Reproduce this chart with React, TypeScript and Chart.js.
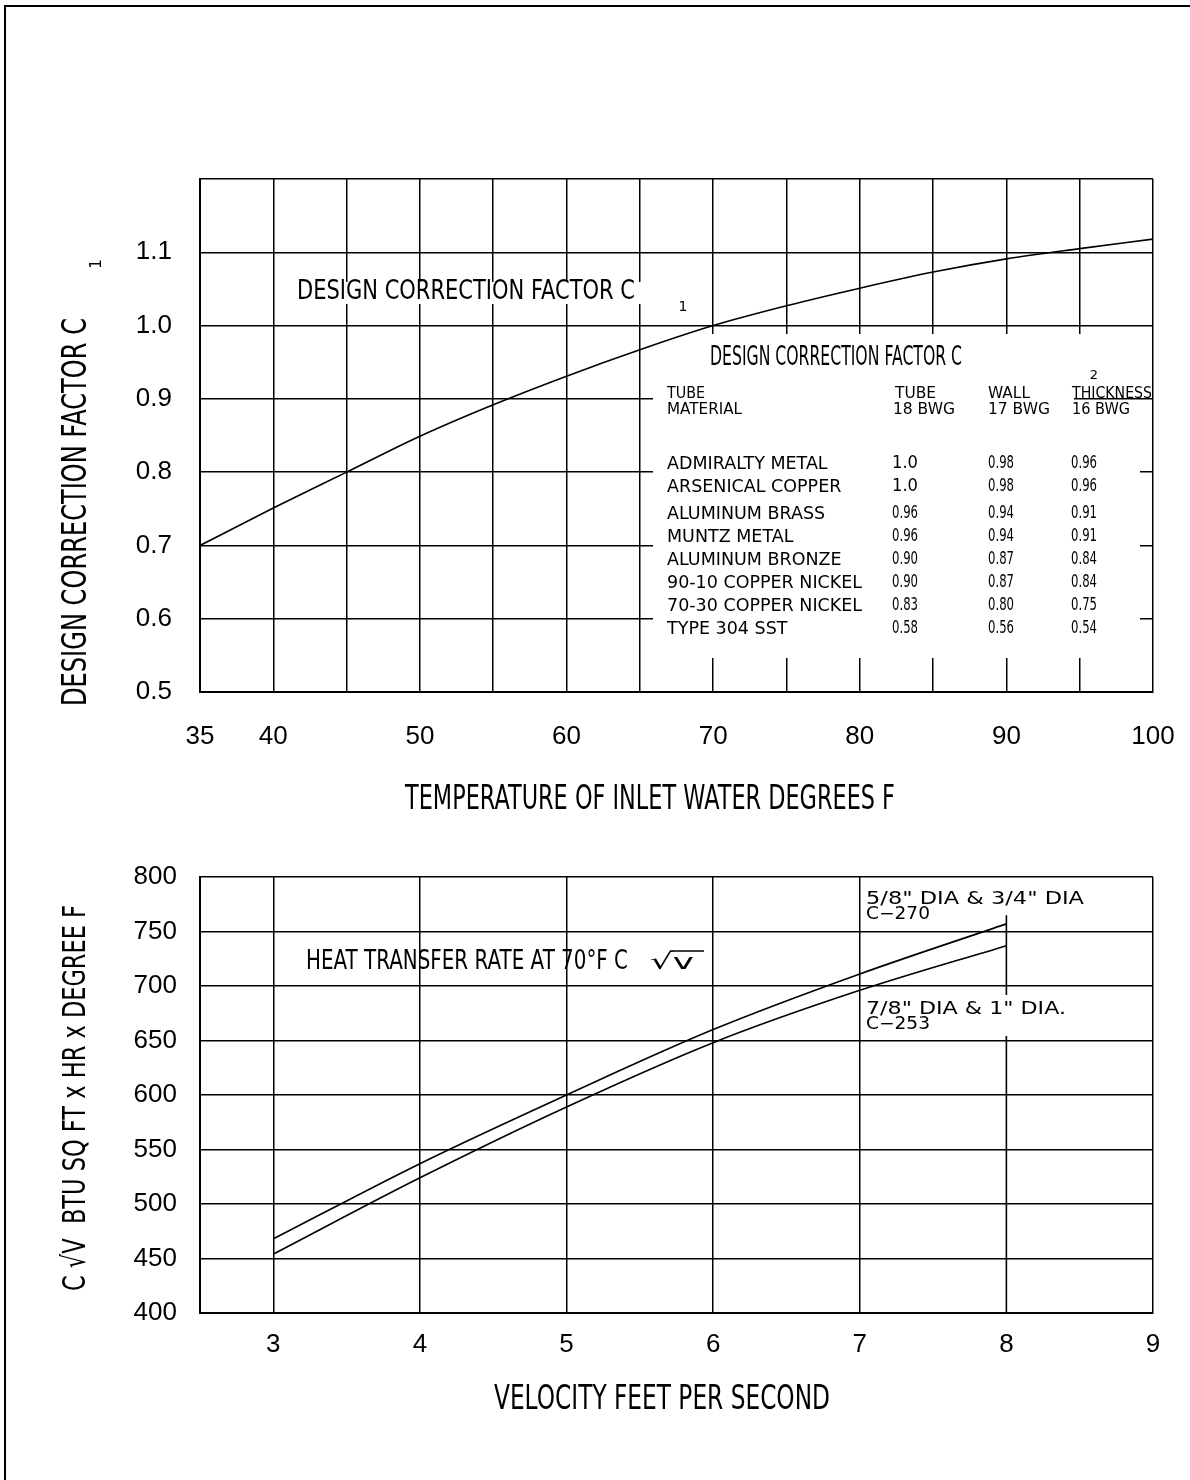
import React, { useEffect, useRef } from 'react';
import { Chart, registerables } from 'chart.js';

Chart.register(...registerables);

// ---------- DATA ----------
const tempF = [35, 40, 45, 50, 55, 60, 65, 70, 75, 80, 85, 90, 95, 100];
const factorC1 = [0.700, 0.751, 0.800, 0.849, 0.892, 0.931, 0.967, 1.000, 1.027, 1.051, 1.073, 1.091, 1.105, 1.118];
const tempTickLabels = [35, 40, 50, 60, 70, 80, 90, 100];

const velocity = [3, 4, 5, 6, 7, 8];
const rateSmallDia = [468, 537, 600, 660, 711, 757]; // 5/8" & 3/4" DIA, C-270
const rateLargeDia = [454, 524, 589, 648, 696, 737]; // 7/8" & 1" DIA, C-253
const dividerVelocity = [8, 8];
const dividerRate = [400, 765];

const materials = [
  'ADMIRALTY METAL',
  'ARSENICAL COPPER',
  'ALUMINUM BRASS',
  'MUNTZ METAL',
  'ALUMINUM BRONZE',
  '90-10 COPPER NICKEL',
  '70-30 COPPER NICKEL',
  'TYPE 304 SST',
];
const bwg18 = ['1.0', '1.0', '0.96', '0.96', '0.90', '0.90', '0.83', '0.58'];
const bwg17 = ['0.98', '0.98', '0.94', '0.94', '0.87', '0.87', '0.80', '0.56'];
const bwg16 = ['0.96', '0.96', '0.91', '0.91', '0.84', '0.84', '0.75', '0.54'];

// ---------- HELPERS ----------
const TXT = 'DejaVu Sans';
const TICK_FONT = 'Liberation Sans';

type TOpts = { size: number; width?: number; sx?: number; align?: CanvasTextAlign; rot?: boolean; family?: string };
function txt(ctx: CanvasRenderingContext2D, s: string, x: number, y: number, o: TOpts) {
  ctx.save();
  ctx.font = `${o.size}px "${o.family ?? TXT}"`;
  const w = ctx.measureText(s).width;
  const sx = o.width ? o.width / w : (o.sx ?? 1);
  ctx.translate(x, y);
  if (o.rot) ctx.rotate(-Math.PI / 2);
  ctx.scale(sx, 1);
  ctx.textAlign = o.align ?? 'left';
  ctx.textBaseline = 'middle';
  ctx.fillStyle = '#000';
  ctx.fillText(s, 0, 0);
  ctx.restore();
}

const gridOpts = { color: '#000', lineWidth: 1.5, drawTicks: false };
const borderOpts = { color: '#000', width: 2 };
const tickFont = { size: 26, family: TICK_FONT };

// ---------- PLUGINS ----------
const topDecor = {
  id: 'topDecor',
  beforeDatasetsDraw(chart: any) {
    const ctx = chart.ctx as CanvasRenderingContext2D;
    ctx.save();
    ctx.fillStyle = '#fff';
    ctx.fillRect(653, 334, 487, 324);
    ctx.fillRect(293, 282, 348, 22);
    ctx.strokeStyle = '#000';
    ctx.lineWidth = 1.5;
    const y09 = chart.scales.y.getPixelForValue(0.9);
    ctx.beginPath();
    ctx.moveTo(1074, y09);
    ctx.lineTo(1140, y09);
    ctx.stroke();
    ctx.restore();
  },
  afterDraw(chart: any) {
    const ctx = chart.ctx as CanvasRenderingContext2D;
    // axis titles
    txt(ctx, 'TEMPERATURE OF INLET WATER DEGREES F', 650, 800, { size: 34, width: 490, align: 'center' });
    txt(ctx, 'DESIGN CORRECTION FACTOR C', 77, 512, { size: 34, width: 388, align: 'center', rot: true });
    txt(ctx, '1', 97, 264, { size: 15, align: 'center', rot: true });
    // curve label
    txt(ctx, 'DESIGN CORRECTION FACTOR C', 297, 292, { size: 27, width: 338 });
    txt(ctx, '1', 683, 307, { size: 14, align: 'center' });
    // table
    txt(ctx, 'DESIGN CORRECTION FACTOR C', 710, 358, { size: 26, width: 252 });
    txt(ctx, '2', 1094, 376, { size: 13, align: 'center' });
    txt(ctx, 'TUBE', 667, 394, { size: 16, width: 38 });
    txt(ctx, 'MATERIAL', 667, 410, { size: 16, width: 75 });
    txt(ctx, 'TUBE', 895, 394, { size: 16, width: 41 });
    txt(ctx, '18 BWG', 893, 410, { size: 16, width: 62 });
    txt(ctx, 'WALL', 988, 394, { size: 16, width: 42 });
    txt(ctx, '17 BWG', 988, 410, { size: 16, width: 62 });
    txt(ctx, 'THICKNESS', 1072, 394, { size: 16, width: 80 });
    txt(ctx, '16 BWG', 1072, 410, { size: 16, width: 58 });
    const rowY = [464, 487, 514, 537, 560, 583, 606, 629];
    materials.forEach((m, i) => {
      txt(ctx, m, 667, rowY[i], { size: 17.5, sx: 1 });
      txt(ctx, bwg18[i], 892, rowY[i], { size: 17, width: 26 });
      txt(ctx, bwg17[i], 988, rowY[i], { size: 17, width: 26 });
      txt(ctx, bwg16[i], 1071, rowY[i], { size: 17, width: 26 });
    });
  },
};

const OFF = 840;
const botDecor = {
  id: 'botDecor',
  afterDatasetsDraw(chart: any) {
    const ctx = chart.ctx as CanvasRenderingContext2D;
    ctx.save();
    ctx.fillStyle = '#fff';
    ctx.fillRect(864, 995 - OFF, 212, 41);
    ctx.restore();
  },
  afterDraw(chart: any) {
    const ctx = chart.ctx as CanvasRenderingContext2D;
    txt(ctx, 'VELOCITY FEET PER SECOND', 662, 1400 - OFF, { size: 34, width: 336, align: 'center' });
    txt(ctx, 'C \u221AV  BTU SQ FT x HR x DEGREE F', 77, 1098 - OFF, { size: 32, width: 386, align: 'center', rot: true });
    txt(ctx, 'HEAT TRANSFER RATE AT 70\u00B0F C', 306, 962 - OFF, { size: 27, width: 322 });
    txt(ctx, '\u221Av', 650, 963 - OFF, { size: 22, width: 44 });
    ctx.save();
    ctx.strokeStyle = '#000';
    ctx.lineWidth = 1.5;
    ctx.beginPath();
    ctx.moveTo(670, 951 - OFF);
    ctx.lineTo(704, 951 - OFF);
    ctx.stroke();
    ctx.restore();
    txt(ctx, '5/8" DIA & 3/4" DIA', 866, 900 - OFF, { size: 17, width: 218 });
    txt(ctx, 'C\u2212270', 866, 915 - OFF, { size: 17, width: 64 });
    txt(ctx, '7/8" DIA & 1" DIA.', 866, 1010 - OFF, { size: 17, width: 200 });
    txt(ctx, 'C\u2212253', 866, 1025 - OFF, { size: 17, width: 64 });
  },
};

const lineDs = (xs: number[], ys: number[], mono = true) => ({
  data: xs.map((x, i) => ({ x, y: ys[i] })),
  borderColor: '#000',
  borderWidth: 1.6,
  pointRadius: 0,
  fill: false,
  cubicInterpolationMode: mono ? 'monotone' : 'default',
  tension: 0,
});

const fixX = (h: number) => (s: any) => {
  s.height = h;
  s.paddingLeft = 0;
  s.paddingRight = 0;
};
const fixY = (s: any) => {
  s.width = 200;
  s.paddingTop = 0;
  s.paddingBottom = 0;
};

export default function App() {
  const topRef = useRef<HTMLCanvasElement>(null);
  const botRef = useRef<HTMLCanvasElement>(null);

  useEffect(() => {
    Chart.defaults.color = '#000';
    const top = new Chart(topRef.current as HTMLCanvasElement, {
      type: 'line',
      data: { datasets: [lineDs(tempF, factorC1) as any] },
      options: {
        responsive: false,
        animation: false,
        events: [],
        layout: { padding: { top: 179, right: 37, left: 0, bottom: 0 } },
        plugins: { legend: { display: false }, tooltip: { enabled: false } },
        scales: {
          x: {
            type: 'linear',
            min: 35,
            max: 100,
            afterFit: fixX(840 - 692),
            ticks: {
              stepSize: 5,
              autoSkip: false,
              maxRotation: 0,
              padding: 29,
              color: '#000',
              font: tickFont,
              callback: (v: any) => (tempTickLabels.includes(Number(v)) ? String(v) : ''),
            },
            grid: gridOpts,
            border: borderOpts,
          },
          y: {
            type: 'linear',
            min: 0.5,
            max: 1.2,
            afterFit: fixY,
            ticks: {
              stepSize: 0.1,
              padding: 28,
              color: '#000',
              font: tickFont,
              callback: (v: any) => (Number(v) > 1.15 ? '' : Number(v).toFixed(1)),
            },
            grid: gridOpts,
            border: borderOpts,
          },
        },
      },
      plugins: [topDecor],
    } as any);

    const bot = new Chart(botRef.current as HTMLCanvasElement, {
      type: 'line',
      data: {
        datasets: [
          lineDs(velocity, rateSmallDia) as any,
          lineDs(velocity, rateLargeDia) as any,
          lineDs(dividerVelocity, dividerRate, false) as any,
        ],
      },
      options: {
        responsive: false,
        animation: false,
        events: [],
        layout: { padding: { top: 37, right: 37, left: 0, bottom: 0 } },
        plugins: { legend: { display: false }, tooltip: { enabled: false } },
        scales: {
          x: {
            type: 'linear',
            min: 2.5,
            max: 9,
            afterFit: fixX(640 - 473),
            ticks: {
              stepSize: 1,
              autoSkip: false,
              maxRotation: 0,
              padding: 16,
              color: '#000',
              font: tickFont,
              callback: (v: any) => (Number.isInteger(Number(v)) ? String(v) : ''),
            },
            grid: {
              ...gridOpts,
              color: (c: any) => (c.tick && c.tick.value === 8 ? 'rgba(0,0,0,0)' : '#000'),
            },
            border: borderOpts,
          },
          y: {
            type: 'linear',
            min: 400,
            max: 800,
            afterFit: fixY,
            ticks: { stepSize: 50, padding: 23, color: '#000', font: tickFont },
            grid: gridOpts,
            border: borderOpts,
          },
        },
      },
      plugins: [botDecor],
    } as any);

    return () => {
      top.destroy();
      bot.destroy();
    };
  }, []);

  return (
    <div style={{ position: 'absolute', left: 0, top: 0, width: 1190, height: 1480, background: '#fff', overflow: 'hidden' }}>
      <div
        style={{
          position: 'absolute', left: 4, top: 5, width: 1186, height: 1475,
          borderTop: '2px solid #000', borderLeft: '2px solid #000', boxSizing: 'border-box',
        }}
      />
      <canvas ref={topRef} width={1190} height={840} style={{ position: 'absolute', left: 0, top: 0 }} />
      <canvas ref={botRef} width={1190} height={640} style={{ position: 'absolute', left: 0, top: 840 }} />
    </div>
  );
}
